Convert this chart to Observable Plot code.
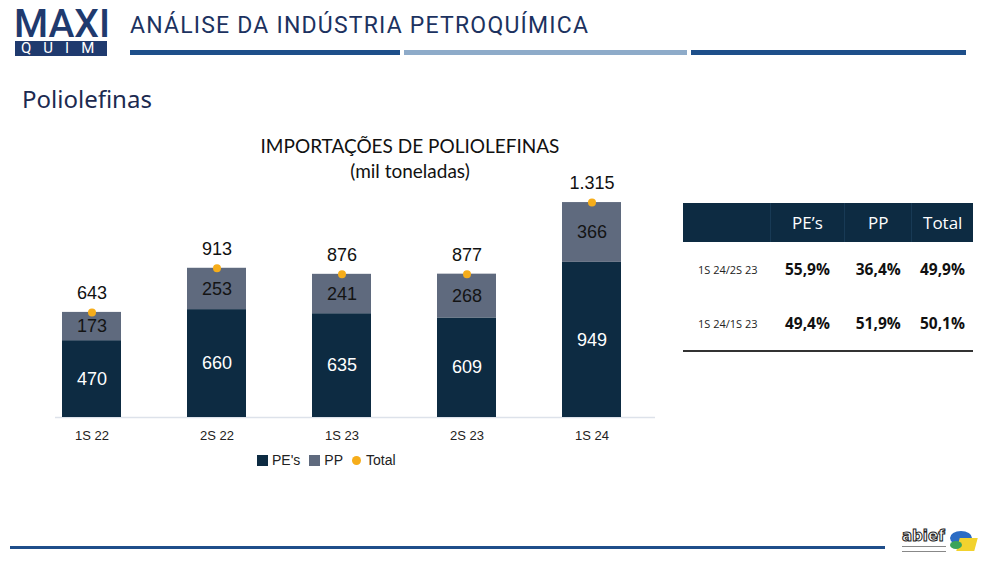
<!DOCTYPE html>
<html><head><meta charset="utf-8">
<script src="https://cdn.jsdelivr.net/npm/d3@7"></script>
<script src="https://cdn.jsdelivr.net/npm/@observablehq/plot@0.6"></script>
<style>
html,body{margin:0;padding:0;}
body{width:1000px;height:563px;position:relative;background:#fff;overflow:hidden;font-family:"Liberation Sans",Arial,sans-serif;}
.abs{position:absolute;}
#logoMaxi{left:14px;top:5px;font-family:"Roboto",sans-serif;font-weight:500;font-size:39px;line-height:39px;color:#1f3a6e;white-space:nowrap;}
#logoQuim{left:15px;top:41px;width:92px;height:15px;background:#1f3a6e;color:#fff;font-family:"Roboto",sans-serif;font-size:15px;line-height:15px;text-align:left;letter-spacing:12px;text-indent:6px;white-space:nowrap;}
#hdr{left:130px;top:14px;font-family:"Roboto",sans-serif;font-size:23px;line-height:23px;color:#1c3260;white-space:nowrap;letter-spacing:1.2px;}
.bar{height:5px;top:50px;}
#sec{left:22px;top:82px;font-family:"Noto Sans","Roboto",sans-serif;font-size:24px;color:#1c2a50;}
#ctitle{left:210px;top:133px;width:400px;text-align:center;font-family:"Lato","Liberation Sans",sans-serif;font-size:19px;line-height:25px;color:#111;}
#chart{left:0;top:160px;}
#legend{left:257px;top:452px;display:flex;align-items:center;font-family:"Liberation Sans",sans-serif;font-size:14px;color:#222;white-space:nowrap;}
#legend .sw{width:11px;height:11px;margin-right:4px;}
#legend .dt{width:9px;height:9px;border-radius:50%;margin-right:5px;}
#legend span.lab{margin-right:9px;}
#tbl{left:683px;top:203px;width:290px;border-collapse:collapse;font-family:"Open Sans","Liberation Sans",sans-serif;}
#tbl th{background:#0d2b42;color:#fff;font-weight:400;font-size:17px;height:39px;padding:0;text-align:center;border-left:1px solid #183a55;}
#tbl td{height:54px;padding:0;text-align:center;font-weight:700;font-size:15.5px;color:#111;}
#tbl td.rl{font-weight:400;font-size:11px;text-align:left;padding-left:15px;color:#222;}
#tbl tr:last-child td{border-bottom:2px solid #333;}
#bline{left:10px;top:546px;width:875px;height:3px;background:#1f4e8a;}
#abief{left:902px;top:527px;font-family:"DejaVu Sans",sans-serif;font-weight:700;font-size:15px;color:#fff;-webkit-text-stroke:1px #222;}
#abiefsub{left:902px;top:546px;width:44px;height:4px;border-top:1px solid #888;border-bottom:1px solid #888;}
</style></head><body>
<div id="logoMaxi" class="abs">MAXI</div>
<div id="logoQuim" class="abs">QUIM</div>
<div id="hdr" class="abs">ANÁLISE DA INDÚSTRIA PETROQUÍMICA</div>
<div class="abs bar" style="left:130px;width:270px;background:#1e4f8a"></div>
<div class="abs bar" style="left:404px;width:283px;background:#8eabc9"></div>
<div class="abs bar" style="left:691px;width:275px;background:#1e4f8a"></div>
<div id="sec" class="abs">Poliolefinas</div>
<div id="ctitle" class="abs">IMPORTAÇÕES DE POLIOLEFINAS<br>(mil toneladas)</div>
<div id="chart" class="abs"></div>
<div id="legend" class="abs"></div>
<table id="tbl" class="abs"></table>
<div id="bline" class="abs"></div>
<div id="abief" class="abs">abief</div>
<div id="abiefsub" class="abs"></div>
<div class="abs" style="left:950px;top:531px;width:22px;height:14px;border-radius:50%;background:#2b6cc4"></div>
<div class="abs" style="left:958px;top:538px;width:18px;height:13px;background:#f2d22e;transform:skewX(-15deg)"></div>
<div class="abs" style="left:950px;top:541px;width:12px;height:8px;border-radius:50%;background:#3aa35a"></div>
<script>
// ---- data ----
const periods = ["1S 22", "2S 22", "1S 23", "2S 23", "1S 24"];
const series = ["PE's", "PP"];
const pe = [470, 660, 635, 609, 949];
const pp = [173, 253, 241, 268, 366];
const total = [643, 913, 876, 877, 1315];
const totalLabel = "Total";

const tableCols = ["PE’s", "PP", "Total"];
const tableRows = ["1S 24/2S 23", "1S 24/1S 23"];
const tablePE = ["55,9%", "49,4%"];
const tablePP = ["36,4%", "51,9%"];
const tableTotal = ["49,9%", "50,1%"];

const colors = ["#0d2b42", "#5f6a7e"];
const dotColor = "#f6ad1a";

// ---- chart ----
const fmt = d3.formatLocale({decimal: ",", thousands: ".", grouping: [3], currency: ["R$", ""]}).format(",d");
const rows = periods.flatMap((p, i) => [
  {period: p, series: series[0], value: pe[i]},
  {period: p, series: series[1], value: pp[i]}
]);
const totals = periods.map((p, i) => ({period: p, total: total[i]}));

const chart = Plot.plot({
  width: 680, height: 290,
  marginLeft: 55, marginRight: 25, marginTop: 20, marginBottom: 33,
  style: {fontFamily: "'Liberation Sans',Arial,sans-serif", background: "transparent", overflow: "visible"},
  x: {domain: periods, range: [27.25, 654.75], paddingInner: 0.53, paddingOuter: 0.265, align: 0.5, label: null},
  y: {domain: [0, 1450], axis: null},
  color: {domain: series, range: colors},
  marks: [
    Plot.ruleY([0], {stroke: "#dde2ea", strokeWidth: 1.5}),
    Plot.barY(rows, {x: "period", y: "value", fill: "series"}),
    Plot.text(rows, Plot.stackY({x: "period", y: "value", text: d => d.series === series[0] ? fmt(d.value) : "", fill: "#ffffff", fontSize: 18})),
    Plot.text(rows, Plot.stackY({x: "period", y: "value", text: d => d.series === series[1] ? fmt(d.value) : "", fill: "#141414", fontSize: 18})),
    Plot.dot(totals, {x: "period", y: "total", fill: dotColor, r: 4}),
    Plot.text(totals, {x: "period", y: "total", text: d => fmt(d.total), dy: -19, fill: "#111", fontSize: 18}),
    Plot.axisX({tickSize: 0, tickPadding: 13, fontSize: 13, fill: "#222", label: null})
  ]
});
document.getElementById("chart").appendChild(chart);

// ---- legend ----
const lg = document.getElementById("legend");
series.forEach((s, i) => {
  const sw = document.createElement("div"); sw.className = "sw"; sw.style.background = colors[i];
  const lb = document.createElement("span"); lb.className = "lab"; lb.textContent = s;
  lg.appendChild(sw); lg.appendChild(lb);
});
{
  const dt = document.createElement("div"); dt.className = "dt"; dt.style.background = dotColor;
  const lb = document.createElement("span"); lb.textContent = totalLabel;
  lg.appendChild(dt); lg.appendChild(lb);
}

// ---- table ----
const tbl = document.getElementById("tbl");
const hr = document.createElement("tr");
hr.innerHTML = `<th style="width:88px;border-left:none"></th>` + tableCols.map((c, i) => `<th style="width:${[74, 67, 61][i]}px">${c}</th>`).join("");
tbl.appendChild(hr);
tableRows.forEach((r, i) => {
  const tr = document.createElement("tr");
  tr.innerHTML = `<td class="rl">${r}</td><td>${tablePE[i]}</td><td>${tablePP[i]}</td><td>${tableTotal[i]}</td>`;
  tbl.appendChild(tr);
});
</script>
</body></html>
